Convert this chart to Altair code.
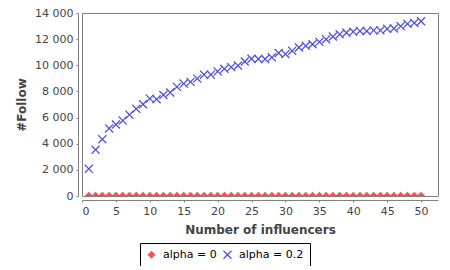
import altair as alt
import pandas as pd

x_vals = [1, 2, 3, 4, 5, 6, 7, 8, 9, 10, 11, 12, 13, 14, 15, 16, 17, 18, 19, 20,
          21, 22, 23, 24, 25, 26, 27, 28, 29, 30, 31, 32, 33, 34, 35, 36, 37, 38, 39, 40,
          41, 42, 43, 44, 45, 46, 47, 48, 49, 50]

alpha0 = [20, 20, 20, 20, 20, 20, 20, 20, 20, 20, 20, 20, 20, 20, 20, 20, 20, 20, 20, 20,
          20, 20, 20, 20, 20, 20, 20, 20, 20, 20, 20, 20, 20, 20, 20, 20, 20, 20, 20, 20,
          20, 20, 20, 20, 20, 20, 20, 20, 20, 20]

alpha02 = [2080, 3540, 4340, 5170, 5470, 5770, 6220, 6670, 7020, 7450,
           7400, 7730, 7920, 8350, 8600, 8730, 8980, 9280, 9280, 9530,
           9730, 9860, 9980, 10290, 10500, 10480, 10480, 10610, 10940, 10860,
           11110, 11360, 11490, 11610, 11790, 11990, 12200, 12370, 12490, 12570,
           12620, 12620, 12670, 12670, 12790, 12820, 12990, 13170, 13240, 13370]

series_names = ["alpha = 0", "alpha = 0.2"]

df = pd.concat([
    pd.DataFrame({"x": x_vals, "y": alpha0, "series": series_names[0]}),
    pd.DataFrame({"x": x_vals, "y": alpha02, "series": series_names[1]}),
])

x_shape = "M-0.8,-1L0,-0.2L0.8,-1L1,-0.8L0.2,0L1,0.8L0.8,1L0,0.2L-0.8,1L-1,0.8L-0.2,0L-1,-0.8Z"

label_font = "DejaVu Sans"

chart = alt.Chart(df).mark_point(filled=True, opacity=1, clip=True, strokeWidth=0).encode(
    x=alt.X("x:Q", scale=alt.Scale(domain=[0, 52.5], nice=False, zero=True),
            axis=alt.Axis(title="Number of influencers", values=[0, 5, 10, 15, 20, 25, 30, 35, 40, 45, 50])),
    y=alt.Y("y:Q", scale=alt.Scale(domain=[0, 14000], nice=False),
            axis=alt.Axis(title="#Follow", values=[0, 2000, 4000, 6000, 8000, 10000, 12000, 14000],
                          labelExpr="replace(format(datum.value, ','), ',', ' ')")),
    color=alt.Color("series:N", scale=alt.Scale(domain=series_names, range=["#F05555", "#5050E0"]),
                    legend=alt.Legend(title=None, orient="none", legendX=58, legendY=230,
                                      direction="horizontal")),
    shape=alt.Shape("series:N", scale=alt.Scale(domain=series_names, range=["diamond", x_shape])),
    size=alt.Size("series:N", scale=alt.Scale(domain=series_names, range=[65, 80])),
).properties(
    width=356, height=183,
    autosize=alt.AutoSizeParams(type="none"),
    padding={"left": 74, "top": 5, "right": 4, "bottom": 70},
).configure_view(
    stroke="#808080", strokeWidth=1
).configure_axis(
    grid=False, offset=4, domainColor="#808080", tickColor="#808080", tickSize=2,
    labelFont=label_font, labelFontSize=11, labelColor="#444444",
    titleFont=label_font, titleFontSize=12, titleFontWeight="bold", titleColor="#444444",
    labelPadding=3,
).configure_axisY(
    titlePadding=6
).configure_axisX(
    titlePadding=8
).configure_legend(
    strokeColor="#000000", fillColor="#ffffff", padding=6, labelFont=label_font,
    labelFontSize=11, labelColor="#000000", columnPadding=5, labelOffset=6,
    symbolStrokeWidth=0
)

chart.save("out.html", embed_options={"renderer": "svg", "actions": False})
